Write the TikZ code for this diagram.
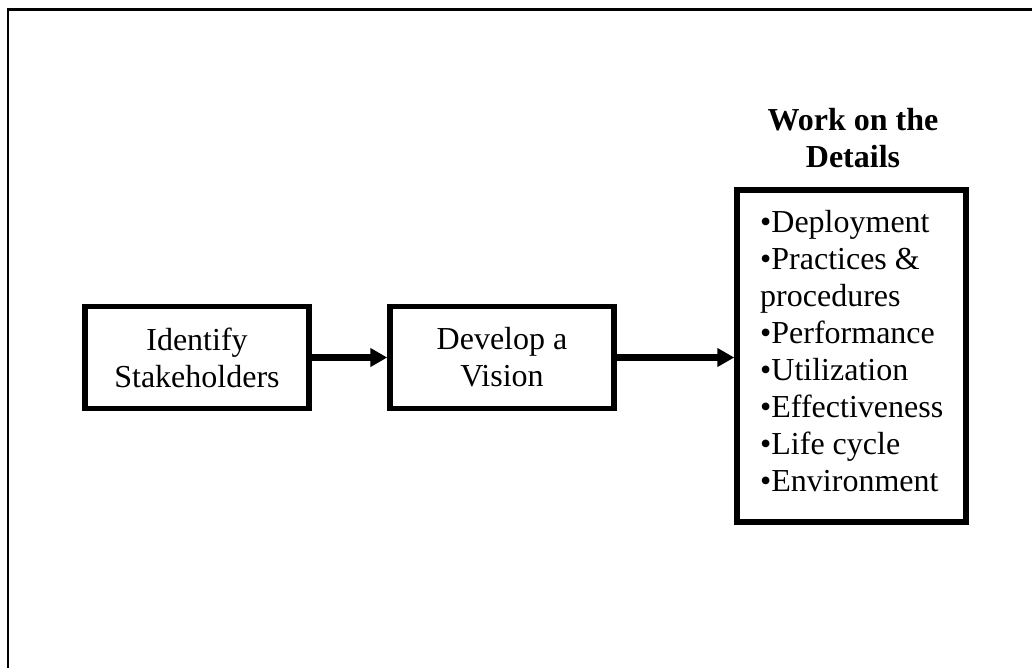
\documentclass[tikz,border=0pt]{standalone}
\usepackage{fontspec}
\setmainfont{Liberation Serif}
\usetikzlibrary{arrows.meta}
\begin{document}
\begin{tikzpicture}[x=1pt,y=-1pt,
  bigtext/.style={font=\fontsize{32}{37}\selectfont},
  stepbox/.style={draw=black, line width=5.5pt, minimum width=224pt,
    minimum height=102pt, inner sep=0pt, align=center, bigtext},
  flow/.style={line width=6.5pt, -{Triangle[length=17pt,width=18pt]}},
  frameline/.style={line width=2.8pt}]
\useasboundingbox (0,0) rectangle (1032,667);
\clip (0,0) rectangle (1032,667);
% page frame (left and top edges)
\draw[frameline] (8,690) -- (8,9.5) -- (1050,9.5);
% process steps
\node[stepbox] (ident) at (197,357.5) {Identify\\Stakeholders};
\node[stepbox] (vision) at (502,357.5) {Develop a\\Vision};
\node[draw=black, line width=5.5pt, minimum width=229pt, minimum height=332pt,
  inner sep=0pt] (details) at (851.5,356) {};
\node[bigtext, font=\fontsize{32}{37}\selectfont\bfseries, align=center,
  anchor=north, inner sep=0pt] (title) at (853,108) {Work on the\\Details};
\node[bigtext, align=left, anchor=north west, inner sep=0pt] (items) at (760,210)
  {\textbullet Deployment\\\textbullet Practices \&\\procedures\\\textbullet Performance\\
   \textbullet Utilization\\\textbullet Effectiveness\\\textbullet Life cycle\\\textbullet Environment};
% connectors
\draw[flow] (ident) -- (vision);
\draw[flow] (vision.east) -- (vision.east -| details.west);
\end{tikzpicture}
\end{document}
